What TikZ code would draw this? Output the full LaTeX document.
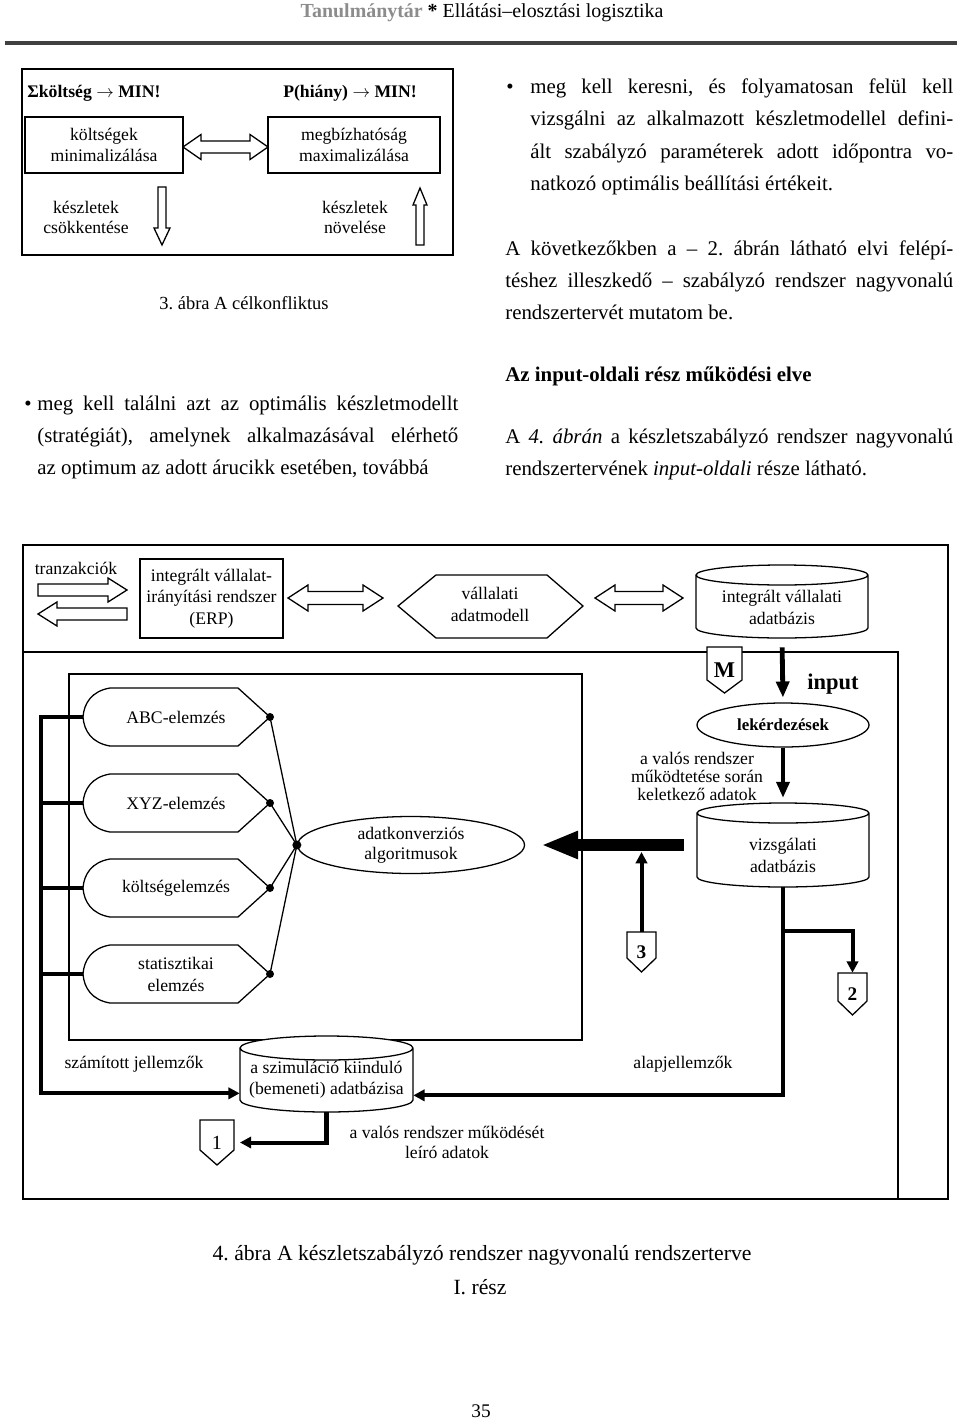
\documentclass[tikz,border=0pt]{standalone}
\usepackage{fontspec}
\setmainfont{Liberation Serif}
\usetikzlibrary{arrows.meta,shapes.geometric,calc}
\frenchspacing

\newdimen\pxu
\pxu=0.021875cm

\tikzset{
    sz/.style 2 args={minimum width={(#1)*0.021875cm}, minimum height={(#2)*0.021875cm}},
    frame/.style={draw, line width=0.9pt},
    thinline/.style={draw, line width=0.8pt},
    hollow/.style={draw, line width=0.8pt, fill=white, line join=miter},
    bus/.style={line width=2.5pt},
    flow/.style={line width=2.5pt, -{Triangle[length=7pt,width=7pt]}},
    txt/.style={inner sep=0pt, align=center, font=\fontsize{11}{13.4}\selectfont},
    box/.style={txt, draw, line width=0.8pt},
    body/.style={inner sep=0pt, anchor=base west, font=\fontsize{13}{16}\selectfont},
}

% hollow block arrows
\newcommand\harrow[6]{% tail x, head base x, tip x, y, head half, shaft half
  \filldraw[hollow] (#3,#4) -- (#2,#4-#5) -- (#2,#4-#6) -- (#1,#4-#6)
    -- (#1,#4+#6) -- (#2,#4+#6) -- (#2,#4+#5) -- cycle;
}
\newcommand\varrow[6]{% x, tail y, head base y, tip y, head half, shaft half
  \filldraw[hollow] (#1,#4) -- (#1-#5,#3) -- (#1-#6,#3) -- (#1-#6,#2)
    -- (#1+#6,#2) -- (#1+#6,#3) -- (#1+#5,#3) -- cycle;
}
\newcommand\dblarrow[6]{% left x, right x, y, head length, head half, shaft half
  \filldraw[hollow] (#1,#3) -- (#1+#4,#3-#5) -- (#1+#4,#3-#6) -- (#2-#4,#3-#6)
    -- (#2-#4,#3-#5) -- (#2,#3) -- (#2-#4,#3+#5) -- (#2-#4,#3+#6)
    -- (#1+#4,#3+#6) -- (#1+#4,#3+#5) -- cycle;
}
% database
\newcommand\cyl[8]{% name, centre x, top y, bottom y, half width, cap, text y, text
  \filldraw[thinline, fill=white] (#2-#5,#3+#6) -- (#2-#5,#4-#6)
    arc[start angle=180, end angle=0, x radius=#5, y radius=#6]
    -- (#2+#5,#3+#6) arc[start angle=0, end angle=-360, x radius=#5, y radius=#6];
  \node[inner sep=0pt, sz={2*#5}{#4-#3}] (#1) at (#2,{(#3+#4)/2}) {};
  \node[txt] (#1-txt) at (#2,#7) {#8};
}
% off-page connector
\newcommand\offpage[7]{% name, centre x, top y, half width, side, point, label
  \filldraw[thinline, fill=white] (#2-#4,#3) -- (#2+#4,#3) -- (#2+#4,#3+#5)
    -- (#2,#3+#5+#6) -- (#2-#4,#3+#5) -- cycle;
  \node[txt, sz={2*#4}{#5+#6}] (#1) at (#2,{#3+(#5+#6)/2}) {#7};
}
% display box of an analysis
\newcommand\elemzes[3]{% name, centre y, text
  \draw[thinline] (83,#2) coordinate (#1-end)
    .. controls (84,#2-14) and (92,#2-26) .. (110,#2-29) -- (238,#2-29)
    -- (270,#2) coordinate (#1-tip) -- (238,#2+29) -- (110,#2+29)
    .. controls (92,#2+26) and (84,#2+14) .. (83,#2);
  \node[txt, font=\fontsize{11}{13.7}\selectfont] (#1) at (176,#2) {#3};
}

\begin{document}
\begin{tikzpicture}[x=0.021875cm, y=-0.021875cm]
\useasboundingbox (0,0) rectangle (960,1421);

% page head
\node[inner sep=0pt, anchor=base, font=\fontsize{12.4}{15}\selectfont] (head) at (482,18)
  {\textcolor{black!45}{\bfseries Tanulmánytár} \textbf{*} Ellátási–elosztási logisztika};
\draw[line width=2pt, black!75] (5,43) -- (957,43);

% 3. abra
\draw[frame] (22,69) rectangle (453,255);
\node[txt, anchor=west, font=\bfseries\fontsize{11}{13}\selectfont] (ksum) at (27,93) {Σköltség $\rightarrow$ MIN!};
\node[txt, font=\bfseries\fontsize{11}{13}\selectfont] (phiany) at (350,93) {P(hiány) $\rightarrow$ MIN!};
\node[box, sz={158}{56}] (kolts) at (104,145) {költségek\\minimalizálása};
\node[box, sz={172}{56}] (megb) at (354,145) {megbízhatóság\\maximalizálása};
\dblarrow{183}{268}{147}{18}{12.5}{6}
\varrow{162}{187}{228}{245}{8}{4}
\varrow{420}{245}{205}{188}{7}{4}
\node[txt, font=\fontsize{11}{12.4}\selectfont] (csokk) at (86,217) {készletek\\csökkentése};
\node[txt, font=\fontsize{11}{12.4}\selectfont] (novel) at (355,217) {készletek\\növelése};
\node[txt, font=\fontsize{11.5}{14}\selectfont] (abra3) at (244,303) {3. ábra A célkonfliktus};

% text columns
\node[body, anchor=base] at (510,94) {\textbullet};
\node[body] at (530,94) {\makebox[423\pxu][s]{meg kell keresni, és folyamatosan felül kell}};
\node[body] at (530,126) {\makebox[423\pxu][s]{vizsgálni az alkalmazott készletmodellel defini-}};
\node[body] at (530,159) {\makebox[423\pxu][s]{ált szabályzó paraméterek adott időpontra vo-}};
\node[body] at (530,191) {natkozó optimális beállítási értékeit.};
\node[body] at (505,255) {\makebox[448\pxu][s]{A következőkben a – 2. ábrán látható elvi felépí-}};
\node[body] at (505,287) {\makebox[448\pxu][s]{téshez illeszkedő – szabályzó rendszer nagyvonalú}};
\node[body] at (505,319) {rendszertervét mutatom be.};
\node[body, font=\bfseries\fontsize{13}{16}\selectfont] at (505,381) {Az input-oldali rész működési elve};
\node[body] at (505,443) {\makebox[448\pxu][s]{A \textit{4. ábrán} a készletszabályzó rendszer nagyvonalú}};
\node[body] at (505,475) {rendszertervének \textit{input-oldali} része látható.};
\node[body, anchor=base] at (28,410) {\textbullet};
\node[body] at (37,410) {\makebox[421\pxu][s]{meg kell találni azt az optimális készletmodellt}};
\node[body] at (37,442) {\makebox[421\pxu][s]{(stratégiát), amelynek alkalmazásával elérhető}};
\node[body] at (37,474) {az optimum az adott árucikk esetében, továbbá};

% 4. abra, frames
\draw[frame] (23,545) rectangle (948,1199);
\draw[frame] (23,652) rectangle (898,1199);
\draw[frame] (69,674) rectangle (582,1040);

% top row
\node[txt] (tranz) at (76,568) {tranzakciók};
\harrow{38}{108}{127}{590}{12}{6}
\harrow{127}{57}{38}{614}{12}{6}
\node[box, sz={143}{79}] (erp) at (211.5,598.5) {integrált vállalat-\\irányítási rendszer\\(ERP)};
\dblarrow{288}{383}{598}{20}{13}{6.5}
\draw[thinline] (398,606) -- (436,575) -- (547,575) -- (583,606) -- (547,638) -- (436,638) -- cycle;
\node[txt] (adm) at (490,604.5) {vállalati\\adatmodell};
\dblarrow{595}{683}{598}{20}{13}{6.5}
\cyl{idb}{782}{565}{638}{86}{10}{607.5}{integrált vállalati\\adatbázis}

% analyses
\elemzes{abc}{717}{ABC-elemzés}
\elemzes{xyz}{803}{XYZ-elemzés}
\elemzes{kolt}{888}{költségelemzés}
\elemzes{stat}{974}{statisztikai\\elemzés}
\node[ellipse, thinline, txt, font=\fontsize{11}{12.4}\selectfont, sz={227}{57}] (adk) at (411,845) {adatkonverziós\\algoritmusok};
\foreach \e in {abc,xyz,kolt,stat}{
  \draw[thinline] (\e-tip) -- (adk.west);
  \fill (\e-tip) circle[radius=4];
}
\fill (adk.west) circle[radius=4.5];

% input side
\offpage{pm}{724.5}{647}{17.5}{33}{13}{\fontsize{14}{16}\selectfont\bfseries M}
\node[ellipse, thinline, txt, font=\bfseries\fontsize{10.5}{12}\selectfont, sz={172}{44}] (lek) at (783,725) {lekérdezések};
\node[txt, font=\bfseries\fontsize{14}{16}\selectfont] (inp) at (833,684) {input};
\draw[line width=3pt, -{Triangle[length=10pt,width=8pt]}, shorten <=5.6pt, shorten >=3pt] (idb.south) -- (lek.north);
\node[txt, font=\fontsize{11}{11.2}\selectfont] (valos) at (697,776) {a valós rendszer\\működtetése során\\keletkező adatok};
\cyl{vdb}{783}{803}{887}{86}{10}{855.5}{vizsgálati\\adatbázis}
\draw[line width=3pt, -{Triangle[length=10pt,width=8pt]}, shorten >=3pt] (lek.south) -- (vdb.north);
\draw[line width=8pt, -{Triangle[length=23pt,width=16pt]}, shorten <=8pt, shorten >=10pt] (vdb.west) -- (adk.east);

% connectors 3 and 2
\offpage{p3}{641.5}{932}{14.5}{26}{14}{\fontsize{12}{14}\selectfont\bfseries 3}
\draw[flow] (p3.north) -- ($(p3.north |- adk.east)+(0,7)$);
\offpage{p2}{852.5}{973}{14.5}{28}{14}{\fontsize{12}{14}\selectfont\bfseries 2}
\draw[flow] ($(vdb.south)+(0,44)$) -| (p2.north);

% simulation database
\cyl{sim}{326.5}{1036}{1112}{86.5}{12}{1079.5}{a szimuláció kiinduló\\(bemeneti) adatbázisa}
\node[txt] (szam) at (134,1064) {számított jellemzők};
\node[txt] (alap) at (683,1064) {alapjellemzők};
\coordinate (busT) at (41,717);
\draw[flow, line join=miter] (abc-end) -- (busT) |- ($(sim.south west)+(0,-19)$);
\foreach \e in {xyz,kolt,stat}
  \draw[bus] (busT |- \e-end) -- (\e-end);
\draw[flow, line join=miter] (vdb.south) |- ($(sim.south east)+(0,-17)$);
\offpage{p1}{217}{1120}{17}{30}{15}{\fontsize{12.5}{14}\selectfont 1}
\draw[flow, shorten >=3.5pt] (sim.south) |- (p1.east);
\node[txt, font=\fontsize{11}{12.4}\selectfont] (leiro) at (447,1142) {a valós rendszer működését\\leíró adatok};

% captions
\node[txt, font=\fontsize{13.5}{16}\selectfont] (abra4) at (482,1255) {4. ábra A készletszabályzó rendszer nagyvonalú rendszerterve};
\node[txt, font=\fontsize{13.5}{16}\selectfont] (resz) at (480,1287) {I. rész};
\node[txt, font=\fontsize{12}{14}\selectfont] (oldal) at (481,1411) {35};
\end{tikzpicture}
\end{document}
